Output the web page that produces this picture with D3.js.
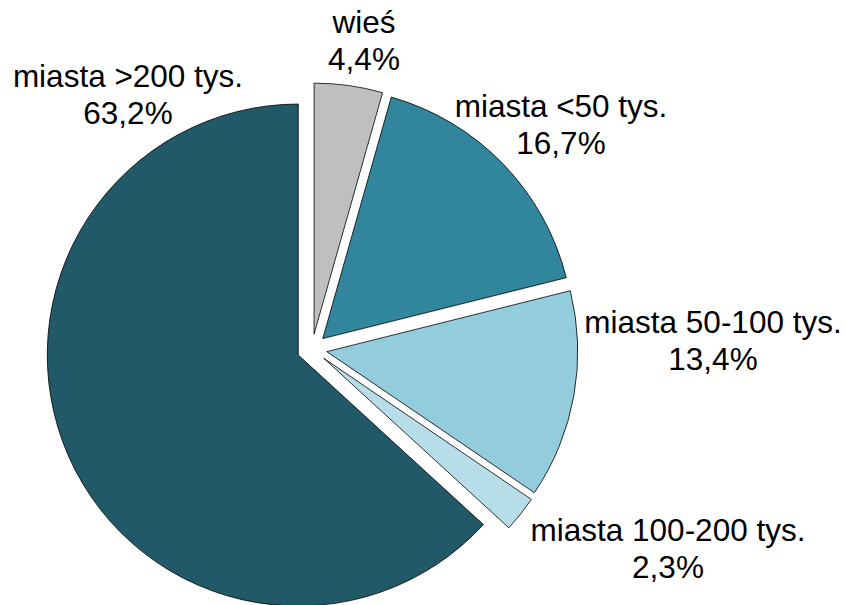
<!DOCTYPE html>
<html>
<head>
<meta charset="utf-8">
<script src="https://cdn.jsdelivr.net/npm/d3@7"></script>
<style>
  body { margin: 0; background: #fff; }
  svg { display: block; }
  text { font-family: "Liberation Sans", Arial, sans-serif; font-size: 31.5px; fill: #000; }
</style>
</head>
<body>
<div id="chart"></div>
<script>
"use strict";

// data, clockwise from 12 o'clock
var categories = ["wieś", "miasta <50 tys.", "miasta 50-100 tys.", "miasta 100-200 tys.", "miasta >200 tys."];
var shares = [4.4, 16.7, 13.4, 2.3, 63.2];
var shareLabels = ["4,4%", "16,7%", "13,4%", "2,3%", "63,2%"];
var colors = ["#BFBFBF", "#31859C", "#93CDDD", "#B7DEE8", "#215968"];

// label anchor (centre x, first baseline) for each slice
var labelAt = [[364, 33], [561, 117], [713, 333], [668, 541], [128, 87]];

var width = 846, height = 605;
var cx = 312, cy = 349, radius = 251, explode = 15;

var svg = d3.select("#chart")
            .append("svg")
            .attr("width", width)
            .attr("height", height);

svg.append("rect")
   .attr("width", width)
   .attr("height", height)
   .attr("fill", "#fff");

var pie = d3.pie().sort(null).value(function(d) { return d; });
var arc = d3.arc().innerRadius(0).outerRadius(radius);

var slices = svg.append("g")
                .attr("transform", "translate(" + cx + "," + cy + ")");

slices.selectAll("path")
      .data(pie(shares))
      .enter()
      .append("path")
      .attr("d", arc)
      .attr("fill", function(d, i) { return colors[i]; })
      .attr("stroke", "#000")
      .attr("stroke-width", 0.8)
      .attr("stroke-linejoin", "round")
      .attr("transform", function(d) {
        var mid = (d.startAngle + d.endAngle) / 2;
        return "translate(" + (explode * Math.sin(mid)) + "," + (-explode * Math.cos(mid)) + ")";
      });

var labels = svg.selectAll("text.lbl")
                .data(categories)
                .enter()
                .append("text")
                .attr("class", "lbl")
                .attr("text-anchor", "middle")
                .attr("x", function(d, i) { return labelAt[i][0]; })
                .attr("y", function(d, i) { return labelAt[i][1]; });

labels.append("tspan")
      .attr("x", function(d, i) { return labelAt[i][0]; })
      .text(function(d) { return d; });

labels.append("tspan")
      .attr("x", function(d, i) { return labelAt[i][0]; })
      .attr("dy", 37)
      .text(function(d, i) { return shareLabels[i]; });
</script>
</body>
</html>
